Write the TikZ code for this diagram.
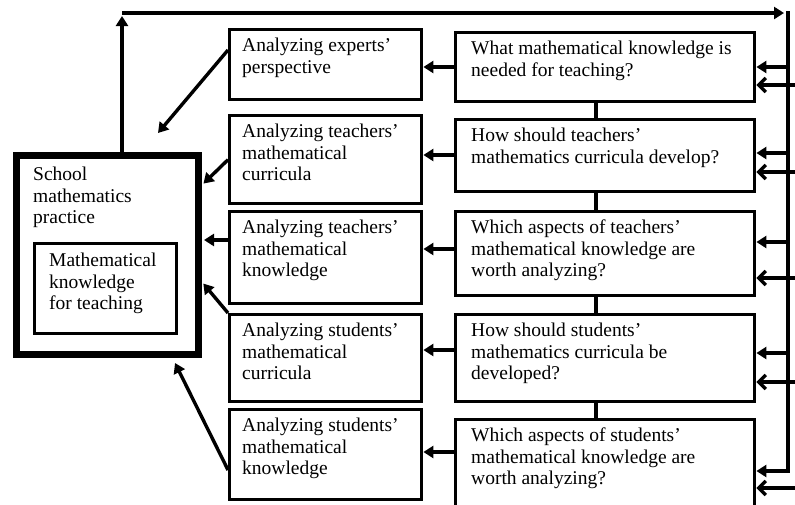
\documentclass[tikz,border=0pt]{standalone}
\usepackage{fontspec}
\setmainfont{Liberation Serif}
\usetikzlibrary{arrows.meta}
\begin{document}
\begin{tikzpicture}[x=1pt,y=1pt,
  bx/.style={draw, line width=3.4pt, inner sep=0pt, anchor=north west},
  txt/.style={inner sep=0pt, anchor=north west, align=left,
    font=\fontsize{19.5}{21.5}\selectfont, execute at begin node=\strut},
  ln/.style={line width=3.4pt},
  fa/.style={-{Triangle[length=10pt,width=12pt]}},
  oa/.style={-{Straight Barb[length=7pt,width=14pt]}}]
\useasboundingbox (0,0) rectangle (795,-504);
% school box
\node[bx, line width=7pt, minimum width=182pt, minimum height=199pt] (school) at (13,-152) {};
\node[bx, minimum width=142pt, minimum height=90pt] (inner) at (33,-242) {};
\node[txt] (schoolt) at (33,-167) {School\\mathematics\\practice};
\node[txt] (innert) at (49,-253) {Mathematical\\knowledge\\for teaching};
% analyzing boxes
\node[bx, minimum width=192pt, minimum height=70pt] (a1) at (228,-28) {};
\node[bx, minimum width=192pt, minimum height=88pt] (a2) at (228,-114) {};
\node[bx, minimum width=192pt, minimum height=92pt] (a3) at (228,-210) {};
\node[bx, minimum width=192pt, minimum height=87pt] (a4) at (228,-313) {};
\node[bx, minimum width=192pt, minimum height=90pt] (a5) at (228,-408) {};
\node[txt] (a1t) at (242,-38) {Analyzing experts’\\perspective};
\node[txt] (a2t) at (242,-124) {Analyzing teachers’\\mathematical\\curricula};
\node[txt] (a3t) at (242,-220) {Analyzing teachers’\\mathematical\\knowledge};
\node[txt] (a4t) at (242,-323) {Analyzing students’\\mathematical\\curricula};
\node[txt] (a5t) at (242,-418) {Analyzing students’\\mathematical\\knowledge};
% question boxes
\node[bx, minimum width=299pt, minimum height=69pt] (q1) at (454,-31) {};
\node[bx, minimum width=299pt, minimum height=72pt] (q2) at (454,-118) {};
\node[bx, minimum width=299pt, minimum height=84pt] (q3) at (454,-210) {};
\node[bx, minimum width=299pt, minimum height=87pt] (q4) at (454,-313) {};
\node[bx, minimum width=299pt, minimum height=90pt] (q5) at (454,-418) {};
\node[txt] (q1t) at (471,-41) {What mathematical knowledge is\\needed for teaching?};
\node[txt] (q2t) at (471,-128) {How should teachers’\\mathematics curricula develop?};
\node[txt] (q3t) at (471,-220) {Which aspects of teachers’\\mathematical knowledge are\\worth analyzing?};
\node[txt] (q4t) at (471,-323) {How should students’\\mathematics curricula be\\developed?};
\node[txt] (q5t) at (471,-428) {Which aspects of students’\\mathematical knowledge are\\worth analyzing?};
% helper coordinates
\coordinate (cx) at (596,0);
\coordinate (tl) at (122,-13);
\coordinate (tr) at (788,-13);
\coordinate (br) at (788,-471);
\coordinate (yl1) at (0,-67);
\coordinate (yl2) at (0,-155);
\coordinate (yl3) at (0,-249);
\coordinate (yl4) at (0,-350);
\coordinate (yl5) at (0,-452);
\coordinate (yr1) at (0,-67);
\coordinate (yr2) at (0,-153);
\coordinate (yr3) at (0,-242);
\coordinate (yr4) at (0,-353);
\coordinate (e1) at (799,-85);
\coordinate (e2) at (799,-172);
\coordinate (e3) at (799,-278);
\coordinate (e4) at (799,-382);
\coordinate (e5) at (799,-488);
\coordinate (f1) at (158,-133);
\coordinate (f5) at (175,-363);
\coordinate (ya1) at (0,-50);
\coordinate (ys2) at (0,-185);
\coordinate (ys3) at (0,-240);
\coordinate (ys4) at (0,-282);
\coordinate (ya5) at (0,-470);
% vertical links between questions
\draw[ln] (q1.south -| cx) -- (q2.north -| cx);
\draw[ln] (q2.south -| cx) -- (q3.north -| cx);
\draw[ln] (q3.south -| cx) -- (q4.north -| cx);
\draw[ln] (q4.south -| cx) -- (q5.north -| cx);
% question -> analyzing
\draw[ln,fa] (q1.west |- yl1) -- (a1.east |- yl1);
\draw[ln,fa] (q2.west |- yl2) -- (a2.east |- yl2);
\draw[ln,fa] (q3.west |- yl3) -- (a3.east |- yl3);
\draw[ln,fa] (q4.west |- yl4) -- (a4.east |- yl4);
\draw[ln,fa] (q5.west |- yl5) -- (a5.east |- yl5);
% feedback loop
\draw[ln,fa,shorten >=3pt] (tl |- school.north) -- (tl);
\draw[ln,fa,shorten >=4pt] (tl) -- (tr);
\draw[ln] ([yshift=1.7pt]tr) -- (br);
\draw[ln,fa] (tr |- yr1) -- (q1.east |- yr1);
\draw[ln,fa] (tr |- yr2) -- (q2.east |- yr2);
\draw[ln,fa] (tr |- yr3) -- (q3.east |- yr3);
\draw[ln,fa] (tr |- yr4) -- (q4.east |- yr4);
\draw[ln,fa] ([xshift=1.7pt]br) -- (q5.east |- br);
% outside inputs
\draw[ln,oa] (e1) -- (q1.east |- e1);
\draw[ln,oa] (e2) -- (q2.east |- e2);
\draw[ln,oa] (e3) -- (q3.east |- e3);
\draw[ln,oa] (e4) -- (q4.east |- e4);
\draw[ln,oa] (e5) -- (q5.east |- e5);
% analyzing -> school
\draw[ln,fa] (a1.west |- ya1) -- (f1);
\draw[ln,fa,shorten >=2pt] (a2.west) -- (school.east |- ys2);
\draw[ln,fa,shorten >=2pt] (a3.west |- ys3) -- (school.east |- ys3);
\draw[ln,fa,shorten >=2pt] (a4.north west) -- (school.east |- ys4);
\draw[ln,fa] (a5.west |- ya5) -- (f5);
\end{tikzpicture}
\end{document}
